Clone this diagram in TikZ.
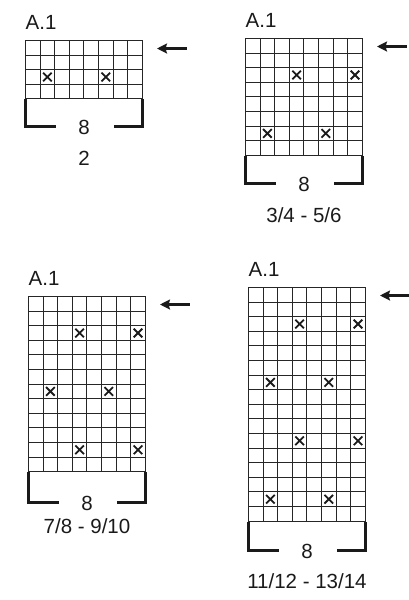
\documentclass[tikz,border=0pt]{standalone}
\usepackage{fontspec}
\setmainfont{Liberation Sans}
\usetikzlibrary{arrows.meta}
\definecolor{ink}{HTML}{1A1A1A}
\definecolor{gridc}{HTML}{262626}
\tikzset{
  gridline/.style={draw=gridc, line width=1.35pt, line cap=rect},
  bracketline/.style={draw=ink, line width=3pt, line join=miter},
  xmark/.style={draw=ink, line width=1.8pt},
  lbl/.style={font=\fontsize{20.5}{24}\selectfont, text=ink, inner sep=0pt},
  charttitle/.style={lbl, anchor=west},
  rowarrow/.style={draw=ink, line width=2.2pt, -{Stealth[length=10pt,width=10pt,inset=1.5pt]}},
}
% #1 id, #2 left, #3 top (integers), #4 rows, #5 bottom label, #6 bracket drop, #7 label offset, #8 crosses col/row
\newcommand\knitchart[8]{%
  \begin{scope}[shift={(#2,#3)}]
    \pgfmathsetmacro\chH{round(#4*14.6)+0.5}
    \pgfmathsetmacro\chB{round(\chH+#6)+0.5}
    \foreach \i in {0,...,8} {
      \pgfmathsetmacro\gx{round(\i*14.6)+0.5}
      \draw[gridline] (\gx,0.5) -- (\gx,\chH);
    }
    \foreach \j in {0,...,#4} {
      \pgfmathsetmacro\gy{round(\j*14.6)+0.5}
      \draw[gridline] (0.5,\gy) -- (117.5,\gy);
    }
    \foreach \c/\r in {#8}
      \draw[xmark] ({(\c-0.5)*14.6+0.5-4.3},{(\r-0.5)*14.6+0.5-4.3}) -- ({(\c-0.5)*14.6+0.5+4.3},{(\r-0.5)*14.6+0.5+4.3})
                   ({(\c-0.5)*14.6+0.5-4.3},{(\r-0.5)*14.6+0.5+4.3}) -- ({(\c-0.5)*14.6+0.5+4.3},{(\r-0.5)*14.6+0.5-4.3});
    \coordinate (#1bl) at (0.5,\chH);
    \coordinate (#1br) at (117.5,\chH);
    \coordinate (#1cl) at (0.5,\chB);
    \coordinate (#1cr) at (117.5,\chB);
    \coordinate (#1el) at (30.5,\chB);
    \coordinate (#1er) at (89,\chB);
    \draw[bracketline] (#1el) -- (#1cl) -- (#1bl);
    \draw[bracketline] (#1er) -- (#1cr) -- (#1br);
    \node[lbl] (#1n) at (59,\chB+1) {8};
    \node[lbl] (#1lab) at (59,\chB+#7) {#5};
    \node[charttitle] (#1t) at (0.5,-18) {A.1};
    \coordinate (#1as) at (161.5,8.5);
    \coordinate (#1ae) at (132,8.5);
    \draw[rowarrow] (#1as) -- (#1ae);
  \end{scope}
}
\begin{document}
\begin{tikzpicture}[x=1pt,y=-1pt]
  \useasboundingbox (0,0) rectangle (409,600);
  \knitchart{a}{25}{40}{4}{2}{27.5}{31.5}{2/3,6/3}
  \knitchart{b}{245}{38}{8}{3/4 - 5/6}{27}{31.5}{4/3,8/3,2/7,6/7}
  \knitchart{c}{28}{296}{12}{7/8 - 9/10}{30}{24}{4/3,8/3,2/7,6/7,4/11,8/11}
  \knitchart{d}{248}{287}{16}{11/12 - 13/14}{28}{30.5}{4/3,8/3,2/7,6/7,4/11,8/11,2/15,6/15}
\end{tikzpicture}
\end{document}
